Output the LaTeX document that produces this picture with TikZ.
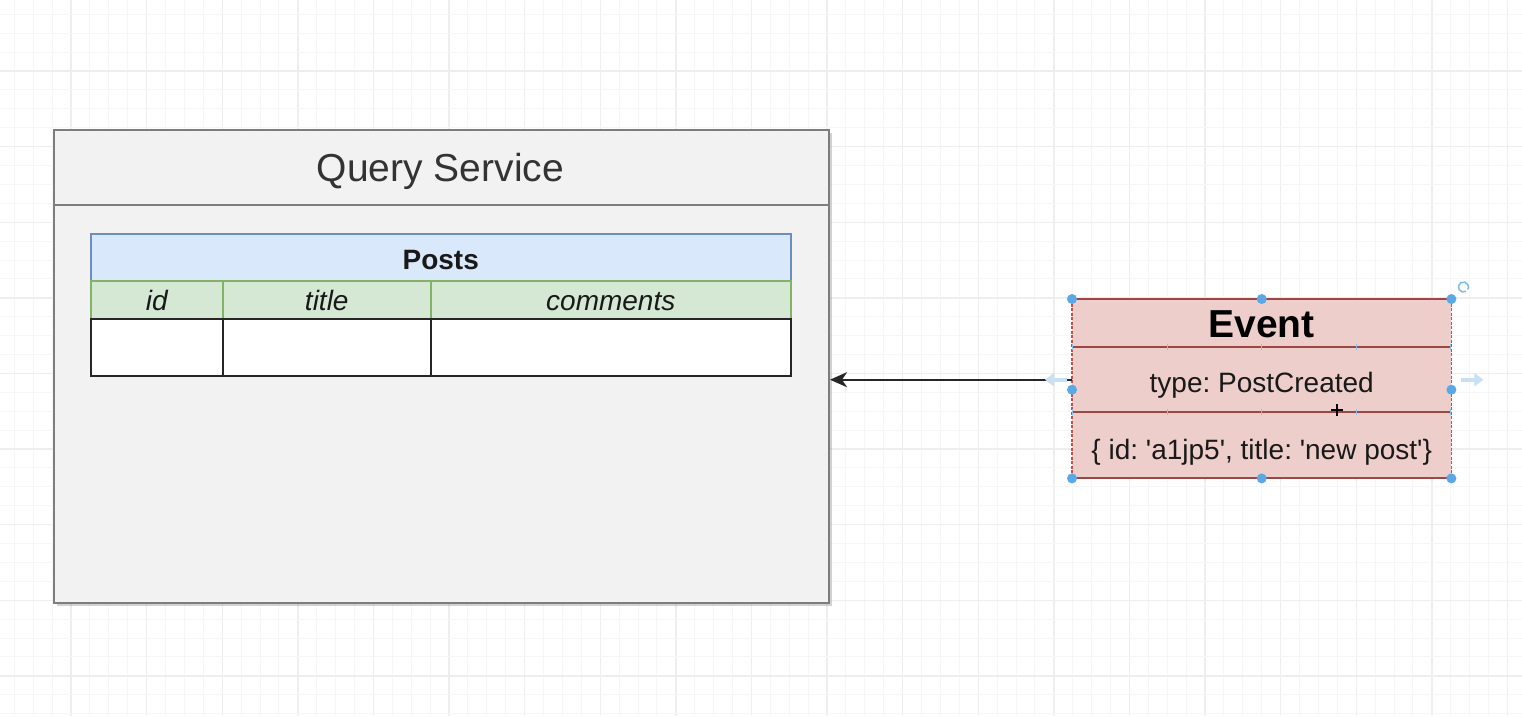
\documentclass[tikz,border=0pt]{standalone}
\usepackage{fontspec}
\setmainfont{Liberation Sans}[Ligatures=TeXOff]
\usetikzlibrary{arrows.meta,shadows,calc}

\definecolor{gridminor}{RGB}{246,246,246}
\definecolor{gridmajor}{RGB}{238,238,238}
\definecolor{qsfill}{RGB}{242,242,242}
\definecolor{qsdraw}{RGB}{125,125,125}
\definecolor{qstext}{RGB}{51,51,51}
\definecolor{postsfill}{RGB}{218,232,252}
\definecolor{postsdraw}{RGB}{108,142,191}
\definecolor{colfill}{RGB}{213,232,212}
\definecolor{coldraw}{RGB}{130,179,102}
\definecolor{evfill}{RGB}{237,206,203}
\definecolor{evdraw}{RGB}{184,84,80}
\definecolor{handle}{RGB}{90,168,230}
\definecolor{ghost}{RGB}{200,224,244}

\newcommand{\pxfont}[1]{\fontsize{#1}{#1}\selectfont\frenchspacing}

\tikzset{
  qsbox/.style={draw=qsdraw, line width=2pt, fill=qsfill, inner sep=0pt,
    drop shadow={shadow xshift=3pt, shadow yshift=-3pt, opacity=0.35}},
  headtext/.style={text=qstext, font=\pxfont{39}, text height=28pt, text depth=0pt},
  postshead/.style={draw=postsdraw, line width=1.5pt, fill=postsfill, inner sep=0pt,
    font=\pxfont{28}\bfseries, text=black!90, text height=25pt, text depth=0pt},
  colhead/.style={draw=coldraw, line width=1.5pt, fill=colfill, inner sep=0pt,
    font=\pxfont{28}\itshape, text=black!90, text height=22pt, text depth=0pt},
  datacell/.style={draw=black!85, line width=2pt, fill=white, inner sep=0pt},
  evcell/.style={fill=evfill, inner sep=0pt, text=black!90},
  evtitle/.style={evcell, font=\pxfont{39}\bfseries, text=black, text height=28pt, text depth=0pt},
  evbody/.style={evcell, font=\pxfont{28}, text height=25pt, text depth=0pt},
  evline/.style={draw=evdraw!85!black, line width=2pt},
  evborder/.style={draw=evdraw, line width=1.5pt, dash pattern=on 3pt off 1.5pt},
  hdl/.style={fill=handle, draw=none},
  tick/.style={draw=handle!70, line width=1.2pt},
  flow/.style={draw=black!85, line width=2pt, -{Stealth[length=17pt,width=15pt,inset=5pt]}},
  ghostarrow/.style={draw=ghost, line width=4pt, -{Triangle[length=9pt,width=13pt]}}
}

\begin{document}
\begin{tikzpicture}[x=1pt,y=-1pt]
  \useasboundingbox (0,0) rectangle (1522,716);
  \fill[white] (0,0) rectangle (1522,716);

  % background grid: minor lines every 18.9, major every fourth
  \foreach \k in {0,...,81}{
    \pgfmathsetmacro\gx{-4.6+18.9*\k}
    \pgfmathtruncatemacro\m{mod(\k,4)}
    \ifnum\m=0
      \draw[gridmajor, line width=1.4pt] (\gx,0) -- (\gx,716);
    \else
      \draw[gridminor, line width=1pt] (\gx,0) -- (\gx,716);
    \fi
  }
  \foreach \k in {0,...,38}{
    \pgfmathsetmacro\gy{-4.6+18.9*\k}
    \pgfmathtruncatemacro\m{mod(\k,4)}
    \ifnum\m=0
      \draw[gridmajor, line width=1.4pt] (0,\gy) -- (1522,\gy);
    \else
      \draw[gridminor, line width=1pt] (0,\gy) -- (1522,\gy);
    \fi
  }

  % Query Service container
  \node[qsbox, anchor=north west, minimum width=775pt, minimum height=473pt] (qs) at (53,129) {};
  \draw[qsdraw, line width=2pt] ([yshift=-76pt]qs.north west) -- ([yshift=-76pt]qs.north east);
  \node[headtext] (qstitle) at (440.5,167) {Query Service};

  % Posts table
  \node[postshead, anchor=north west, minimum width=700pt, minimum height=47pt] (posts) at (90,233) {Posts};
  \node[colhead, anchor=north west, minimum width=132pt, minimum height=38pt] (cid) at (90,280) {id};
  \node[colhead, anchor=north west, minimum width=208pt, minimum height=38pt] (ctitle) at (222,280) {title};
  \node[colhead, anchor=north west, minimum width=360pt, minimum height=38pt] (ccom) at (430,280) {comments};
  \node[datacell, anchor=north west, minimum width=132pt, minimum height=57pt] (did) at (90,318) {};
  \node[datacell, anchor=north west, minimum width=208pt, minimum height=57pt] (dtitle) at (222,318) {};
  \node[datacell, anchor=north west, minimum width=360pt, minimum height=57pt] (dcom) at (430,318) {};

  % Event record
  \node[evtitle, anchor=north west, minimum width=379pt, minimum height=48pt] (ev1) at (1072,299) {Event};
  \node[evbody, anchor=north west, minimum width=379pt, minimum height=65pt] (ev2) at (1072,347) {type: PostCreated};
  \node[evbody, anchor=north west, minimum width=379pt, minimum height=66pt, text height=28pt] (ev3) at (1072,412) {\{ id: 'a1jp5', title: 'new post'\}};
  \draw[evline] (ev1.south west) -- (ev1.south east);
  \draw[evline] (ev2.south west) -- (ev2.south east);
  \draw[evline] (ev1.north west) -- (ev1.north east);
  \draw[evline] (ev3.south west) -- (ev3.south east);
  \draw[evborder] (ev1.north west) -- (ev3.south west);
  \draw[evborder] (ev1.north east) -- (ev3.south east);

  % event flows into the query service
  \draw[flow] (ev2.west) -- (ev2.west -| qs.east);

  % selection handles and hover hints around the event
  \foreach \p in {ev1.north west, ev1.north, ev1.north east, ev3.south west, ev3.south, ev3.south east}
    \fill[hdl] (\p) circle (5pt);
  \fill[hdl] (ev2.west) ++(0,10) circle (5pt);
  \fill[hdl] (ev2.east) ++(0,10) circle (5pt);
  \foreach \a in {ev1.south, ev2.south}{
    \foreach \dx in {-189,-94.5,0,94.5,189}
      \draw[tick] ([xshift=\dx pt, yshift=-3pt]\a) -- ([xshift=\dx pt, yshift=3pt]\a);
  }
  \coordinate (gl) at ($(ev2.west)+(-5,0)$);
  \coordinate (gr) at ($(ev2.east)+(10,0)$);
  \draw[ghostarrow] (gl) -- ++(-22,0);
  \draw[ghostarrow] (gr) -- ++(22,0);
  \coordinate (rot) at ($(ev1.north east)+(12,-12)$);
  \draw[handle!80, line width=1.5pt] (rot) ++(60:5) arc (60:390:5);
  \coordinate (cur) at (1337,410);
  \draw[black, line width=2pt] ($(cur)+(-6,0)$) -- ($(cur)+(6,0)$);
  \draw[black, line width=2pt] ($(cur)+(0,-6)$) -- ($(cur)+(0,6)$);
\end{tikzpicture}
\end{document}
